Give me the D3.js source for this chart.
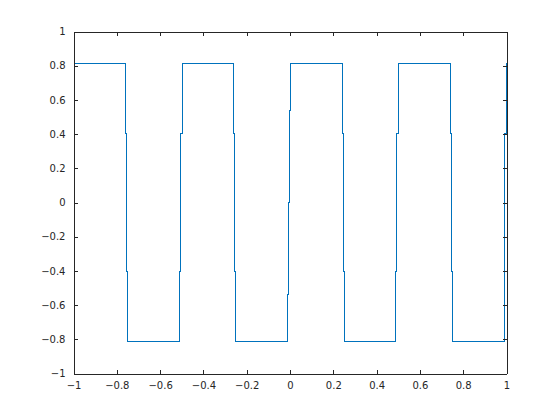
<!DOCTYPE html>
<html>
<head>
<meta charset="utf-8">
<script src="https://cdn.jsdelivr.net/npm/d3@7"></script>
<style>
  html, body { margin: 0; padding: 0; background: #fff; }
  svg { display: block; }
  text { font-family: "DejaVu Sans", sans-serif; font-size: 10px; fill: #262626; }
</style>
</head>
<body>
<script>
// Stair-step signal: each level holds from its x until the next x
const stepX = [-1, -0.758, -0.755, -0.749,
               -0.509, -0.5046, -0.498,
               -0.260, -0.2558, -0.2512,
               -0.0115, -0.0069, -0.0023, 0.0023,
               0.242, 0.2465, 0.2512,
               0.4894, 0.494, 0.5,
               0.7396, 0.744, 0.749,
               0.9885, 0.993, 0.9977, 1];
const stepY = [0.812, 0.406, -0.406, -0.812,
               -0.406, 0.406, 0.812,
               0.406, -0.406, -0.812,
               -0.54, 0, 0.54, 0.812,
               0.406, -0.406, -0.812,
               -0.406, 0.406, 0.812,
               0.406, -0.406, -0.812,
               -0.406, 0.406, 0.812, 0.812];
const xTicks = [-1, -0.8, -0.6, -0.4, -0.2, 0, 0.2, 0.4, 0.6, 0.8, 1];
const yTicks = [-1, -0.8, -0.6, -0.4, -0.2, 0, 0.2, 0.4, 0.6, 0.8, 1];

const W = 560, H = 420;
const L = 73.5, R = 506.5, T = 31.5, B = 373.5;
const svg = d3.select("body").append("svg").attr("width", W).attr("height", H);

const x = d3.scaleLinear().domain([-1, 1]).range([L, R]);
const y = d3.scaleLinear().domain([-1, 1]).range([B, T]);

const pts = stepX.map((v, i) => [v, stepY[i]]);
const line = d3.line().x(d => x(d[0])).y(d => y(d[1])).curve(d3.curveStepAfter);

const axisColor = "#262626";
const tickLen = 4;

// data line
svg.append("path").datum(pts)
  .attr("d", line)
  .attr("fill", "none")
  .attr("stroke", "#0072BD")
  .attr("stroke-width", 1)
  .attr("shape-rendering", "crispEdges");

// axes (box with inward ticks on all sides)
const fmt = v => (Math.abs(v) < 1e-9 ? "0" : d3.format("")(+v.toFixed(1)));

const xAxisB = d3.axisBottom(x).tickValues(xTicks).tickSizeInner(-tickLen).tickSizeOuter(0).tickPadding(8).tickFormat(fmt);
const xAxisT = d3.axisTop(x).tickValues(xTicks).tickSizeInner(-tickLen).tickSizeOuter(0).tickFormat("");
const yAxisL = d3.axisLeft(y).tickValues(yTicks).tickSizeInner(-tickLen).tickSizeOuter(0).tickPadding(8).tickFormat(fmt);
const yAxisR = d3.axisRight(y).tickValues(yTicks).tickSizeInner(-tickLen).tickSizeOuter(0).tickFormat("");

function style(g) {
  g.selectAll(".domain").attr("stroke", axisColor).attr("shape-rendering", "crispEdges");
  g.selectAll(".tick line").attr("stroke", axisColor).attr("shape-rendering", "crispEdges");
  g.selectAll("text").attr("fill", axisColor).style("font-family", "DejaVu Sans, sans-serif").style("font-size", "10px");
}

svg.append("g").attr("transform", `translate(0,${B})`).call(xAxisB).call(style);
svg.append("g").attr("transform", `translate(0,${T})`).call(xAxisT).call(style);
svg.append("g").attr("transform", `translate(${L},0)`).call(yAxisL).call(style);
svg.append("g").attr("transform", `translate(${R},0)`).call(yAxisR).call(style);
</script>
</body>
</html>
